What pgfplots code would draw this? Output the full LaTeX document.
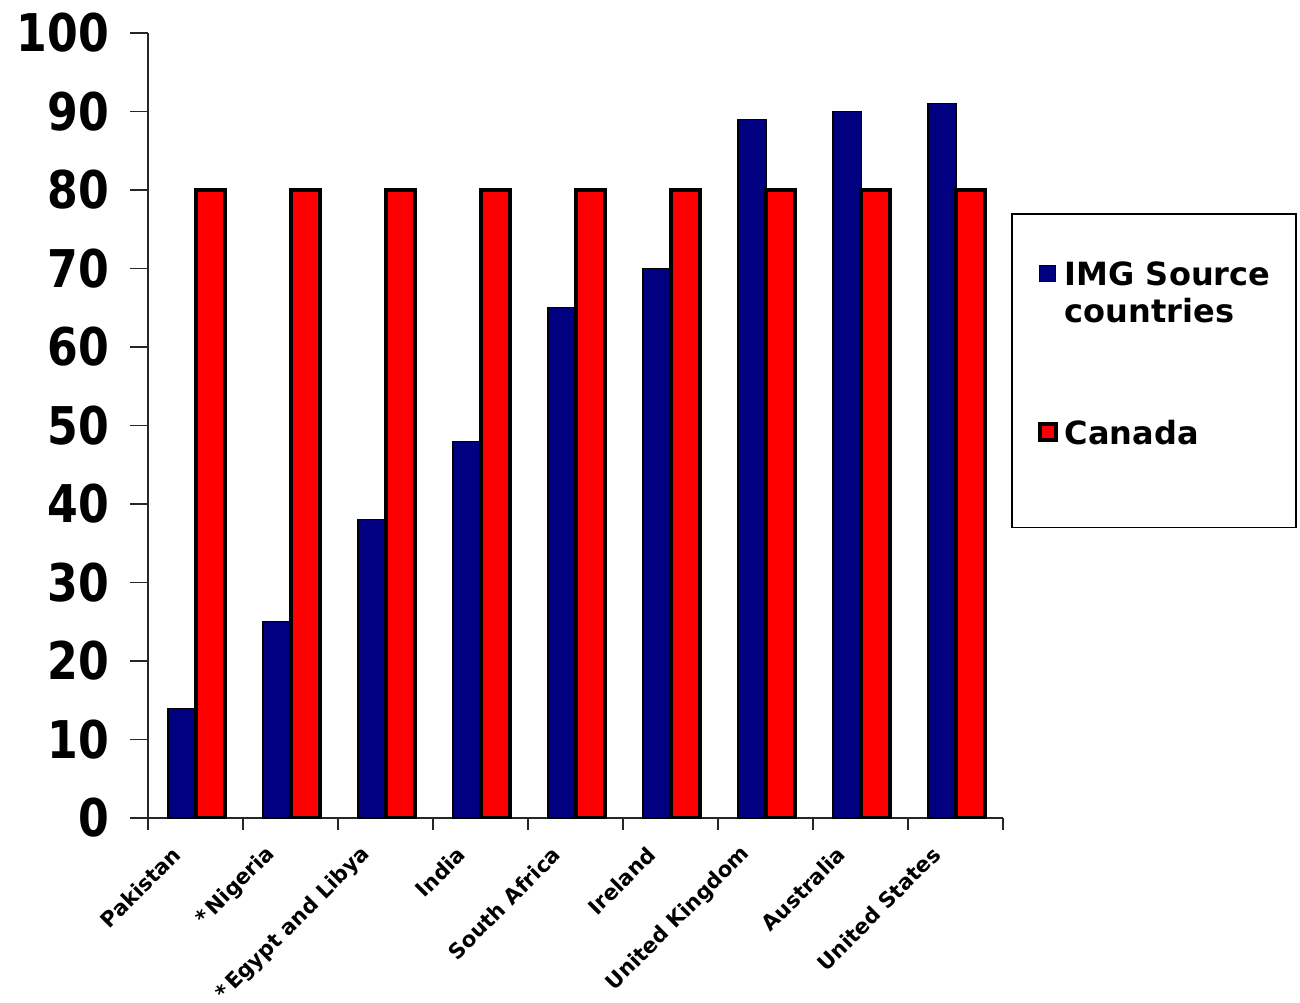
\documentclass[border=0pt]{standalone}
\usepackage{fontspec}
\setmainfont{DejaVu Sans}
\usepackage{pgfplots}
\pgfplotsset{compat=1.18}
\definecolor{imgblue}{RGB}{0,0,128}
\definecolor{canred}{RGB}{255,0,0}
\begin{document}
\begin{tikzpicture}
\useasboundingbox (-74pt,-92pt) rectangle (576pt,409pt);
\begin{axis}[
  scale only axis, width=427.5pt, height=392.5pt,
  xmin=-0.5, xmax=8.5, ymin=0, ymax=100,
  axis x line*=bottom, axis y line*=left,
  axis line style={line width=0.8pt, black!85},
  tick style={line width=0.8pt, black!85},
  tick align=outside,
  major tick length=9pt, minor tick length=6pt,
  ytick={0,10,...,100},
  xtick={0,...,8},
  xticklabels={Pakistan, *\,Nigeria, *\,Egypt and Libya, India, South Africa, Ireland, United Kingdom, Australia, United States},
  minor xtick={-0.5,0.5,...,8.5},
  major x tick style={draw=none},
  /pgf/number format/assume math mode=true,
  yticklabel={\scalebox{0.85}[1]{\pgfmathprintnumber{\tick}}},
  yticklabel style={font=\fontsize{26}{26}\selectfont\bfseries, xshift=-7pt},
  xticklabel style={font=\fontsize{10.6}{12}\selectfont\bfseries, xshift=-7pt, yshift=-5pt, rotate=45, anchor=east},
  ybar, bar width=0.3,
  area legend,
  legend cell align=left,
  legend style={at={(1.0094,0.7707)}, anchor=north west, draw=black, line width=0.8pt,
    inner xsep=13pt, inner ysep=21pt, row sep=61.5pt, column sep=3.5pt,
    nodes={font=\fontsize{16}{18.5}\selectfont\bfseries, inner xsep=0pt, inner ysep=2pt}},
  legend image code/.code={\draw[#1] (0pt,-3.5pt) rectangle (8pt,4.5pt);},
]
\addplot[fill=imgblue, draw=black, line width=0.6pt, bar shift=-0.14] coordinates {
  (0,14) (1,25) (2,38) (3,48) (4,65) (5,70) (6,89) (7,90) (8,91)};
\addplot[fill=canred, draw=black, line width=2pt, bar shift=0.16,
  legend image code/.code={\draw[fill=canred, draw=black, line width=2pt] (0pt,-3.5pt) rectangle (8pt,4.5pt); \path[draw=none, fill=none] (4pt,-26pt) -- (4pt,4.5pt);}] coordinates {
  (0,80) (1,80) (2,80) (3,80) (4,80) (5,80) (6,80) (7,80) (8,80)};
\legend{\begin{tabular}[t]{@{}l@{}}IMG Source\\countries\end{tabular}, Canada}
\end{axis}
\end{tikzpicture}
\end{document}
